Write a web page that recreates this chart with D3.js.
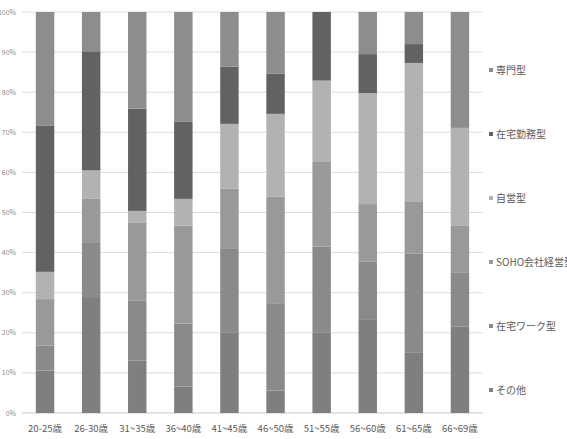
<!DOCTYPE html>
<html>
<head>
<meta charset="utf-8">
<script src="https://cdn.jsdelivr.net/npm/d3@7"></script>
<style>
  body { margin: 0; background: #fff; }
  text { font-family: "Noto Sans CJK JP", "Noto Sans", sans-serif; }
</style>
</head>
<body>
<div id="chart"></div>
<script>
// data (percent of each age group)
var ages = ["20-25歳", "26-30歳", "31~35歳", "36~40歳", "41~45歳", "46~50歳", "51~55歳", "56~60歳", "61~65歳", "66~69歳"];
var seriesNames = ["その他", "在宅ワーク型", "SOHO会社経営型", "自営型", "在宅勤務型", "専門型"];
var sonota    = [10.6, 28.9, 13.1,  6.6, 20.0,  5.6, 20.0, 23.4, 15.0, 21.6];
var zaitakuWork = [6.2, 13.7, 15.0, 15.7, 21.1, 21.6, 21.5, 14.3, 24.7, 13.5];
var soho      = [11.6, 10.8, 19.3, 24.4, 14.8, 26.8, 21.1, 14.4, 13.1, 11.7];
var jiei      = [ 6.8,  7.1,  3.0,  6.7, 16.2, 20.6, 20.3, 27.7, 34.5, 24.3];
var kinmu     = [36.4, 29.7, 25.5, 19.2, 14.3, 10.0, 17.1,  9.7,  4.7,  0.0];
var senmon    = [28.4,  9.8, 24.1, 27.4, 13.6, 15.4,  0.0, 10.5,  8.0, 28.9];
var yTicks = [0, 10, 20, 30, 40, 50, 60, 70, 80, 90, 100];

var colors = ["#7f7f7f", "#8a8a8a", "#999999", "#b2b2b2", "#626262", "#8d8d8d"];

// ---------------------------//
//         DIMENSIONS         //
// ---------------------------//
var width = 567;
var height = 439;
var margin = { top: 12, right: 84, bottom: 26, left: 22 };

var svg = d3.select("#chart")
  .append("svg")
  .attr("width", width)
  .attr("height", height);

var rows = ages.map(function(a, i) {
  return {
    age: a,
    "その他": sonota[i],
    "在宅ワーク型": zaitakuWork[i],
    "SOHO会社経営型": soho[i],
    "自営型": jiei[i],
    "在宅勤務型": kinmu[i],
    "専門型": senmon[i]
  };
});

// normalise so each bar sums to 100
rows.forEach(function(r) {
  var total = d3.sum(seriesNames, function(k) { return r[k]; });
  seriesNames.forEach(function(k) { r[k] = r[k] / total * 100; });
});

var stacked = d3.stack().keys(seriesNames)(rows);

// ---------------------------//
//       AXIS  AND SCALE      //
// ---------------------------//
var x = d3.scaleBand()
  .domain(ages)
  .range([margin.left, width - margin.right])
  .paddingInner(0.6)
  .paddingOuter(0.3);

var y = d3.scaleLinear()
  .domain([0, 100])
  .range([height - margin.bottom, margin.top]);

// gridlines
svg.append("g")
  .selectAll("line")
  .data(yTicks)
  .enter()
  .append("line")
  .attr("x1", margin.left)
  .attr("x2", width - margin.right)
  .attr("y1", function(d) { return y(d); })
  .attr("y2", function(d) { return y(d); })
  .attr("stroke", function(d) { return d === 0 ? "#c8c8c8" : "#dcdcdc"; })
  .attr("stroke-width", 1);

// y labels
svg.append("g")
  .selectAll("text")
  .data(yTicks)
  .enter()
  .append("text")
  .attr("x", margin.left - 6)
  .attr("y", function(d) { return y(d) + 2.5; })
  .attr("text-anchor", "end")
  .style("font-size", "7px")
  .style("fill", "#8a8a8a")
  .text(function(d) { return d + "%"; });

// bars
svg.append("g")
  .selectAll("g")
  .data(stacked)
  .enter()
  .append("g")
  .attr("fill", function(d, i) { return colors[i]; })
  .selectAll("rect")
  .data(function(d) { return d; })
  .enter()
  .append("rect")
  .attr("x", function(d) { return x(d.data.age); })
  .attr("width", x.bandwidth())
  .attr("y", function(d) { return y(d[1]); })
  .attr("height", function(d) { return y(d[0]) - y(d[1]); });

// x labels
svg.append("g")
  .selectAll("text")
  .data(ages)
  .enter()
  .append("text")
  .attr("x", function(d) { return x(d) + x.bandwidth() / 2; })
  .attr("y", height - margin.bottom + 19)
  .attr("text-anchor", "middle")
  .style("font-size", "9.5px")
  .style("fill", "#5a5a5a")
  .text(function(d) { return d; });

// ---------------------------//
//           LEGEND           //
// ---------------------------//
var legendY = d3.scalePoint()
  .domain(seriesNames.slice().reverse())
  .range([71, 391]);

var legend = svg.append("g")
  .selectAll("g")
  .data(seriesNames)
  .enter()
  .append("g")
  .attr("transform", function(d) { return "translate(489," + legendY(d) + ")"; });

legend.append("rect")
  .attr("x", 0)
  .attr("y", -3)
  .attr("width", 4)
  .attr("height", 4)
  .attr("fill", function(d, i) { return colors[i]; });

legend.append("text")
  .attr("x", 7)
  .attr("y", 3)
  .style("font-size", "10px")
  .style("fill", "#5a5a5a")
  .text(function(d) { return d; });
</script>
</body>
</html>
